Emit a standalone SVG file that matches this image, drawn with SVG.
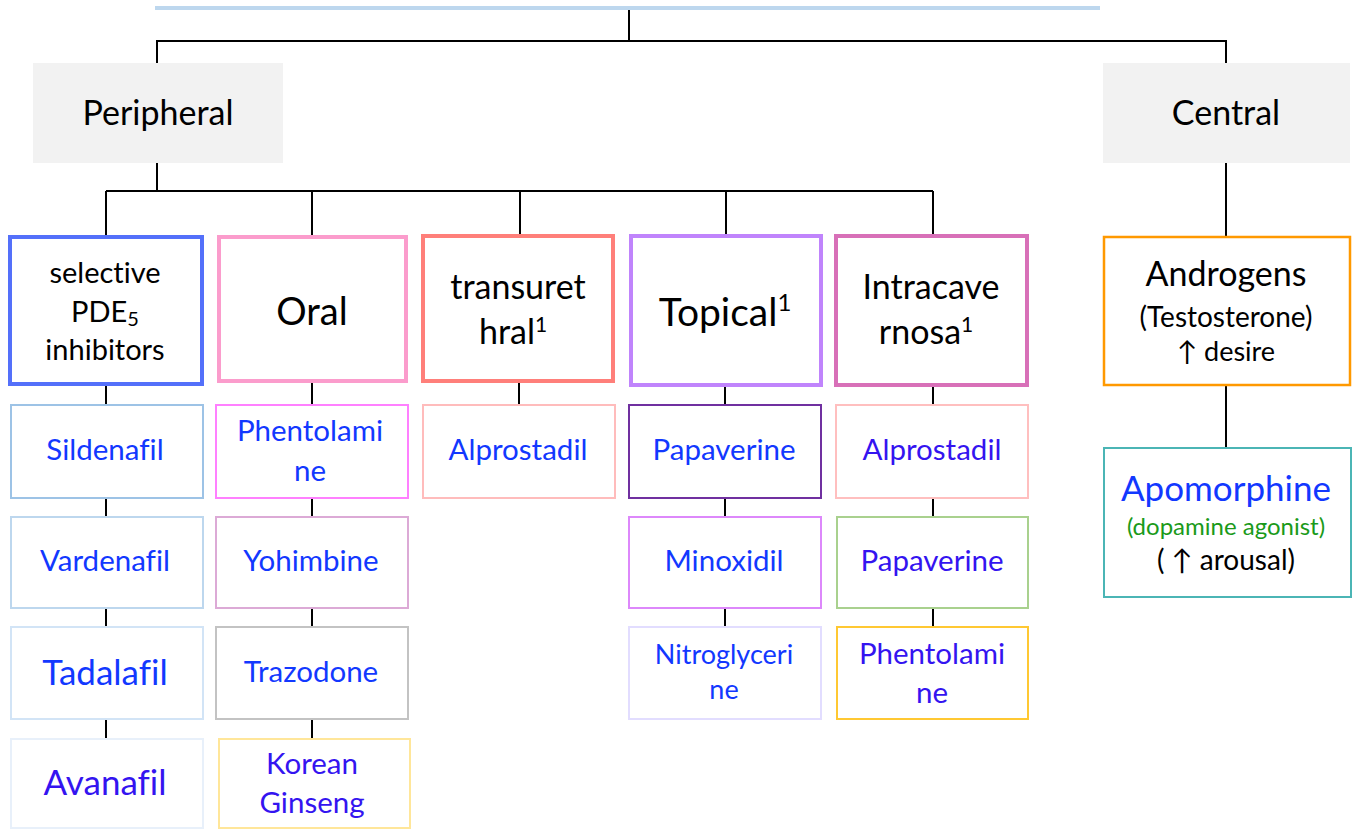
<svg xmlns="http://www.w3.org/2000/svg" width="1361" height="829" viewBox="0 0 1361 829">
<style>
text{font-family:Lato,"Open Sans","Liberation Sans",sans-serif;text-anchor:middle;font-variant-ligatures:none;}
.k{fill:#000}
.b{fill:#1238ff}
.p{fill:#3414f0}
.g{fill:#1a9a1a}
.hdr{fill:#f2f2f2}
.l2{fill:#fff;stroke-width:4}
.l3{fill:#fff;stroke-width:2}
.d{font-size:29.5px}
#connectors line,#connectors polyline{stroke:#000;stroke-width:2;fill:none}
</style>
<rect width="1361" height="829" fill="#fff"/>
<line x1="155" y1="8" x2="1100" y2="8" stroke="#bdd7ee" stroke-width="4"/>
<g id="connectors">
<line x1="629" y1="10" x2="629" y2="41"/>
<polyline points="157,63 157,41 1226,41 1226,63"/>
<line x1="157" y1="163" x2="157" y2="191"/>
<line x1="106" y1="191" x2="933" y2="191"/>
<line x1="106" y1="191" x2="106" y2="235"/>
<line x1="312" y1="191" x2="312" y2="235"/>
<line x1="520" y1="191" x2="520" y2="235"/>
<line x1="726" y1="191" x2="726" y2="235"/>
<line x1="933" y1="191" x2="933" y2="235"/>
<line x1="1226" y1="163" x2="1226" y2="236"/>
<line x1="106" y1="385" x2="106" y2="404"/>
<line x1="106" y1="498" x2="106" y2="516"/>
<line x1="106" y1="608" x2="106" y2="626"/>
<line x1="106" y1="719" x2="106" y2="738"/>
<line x1="312" y1="383" x2="312" y2="404"/>
<line x1="312" y1="498" x2="312" y2="516"/>
<line x1="312" y1="608" x2="312" y2="626"/>
<line x1="312" y1="719" x2="312" y2="738"/>
<line x1="519" y1="383" x2="519" y2="404"/>
<line x1="725" y1="387" x2="725" y2="404"/>
<line x1="725" y1="498" x2="725" y2="516"/>
<line x1="725" y1="608" x2="725" y2="626"/>
<line x1="933" y1="387" x2="933" y2="404"/>
<line x1="933" y1="498" x2="933" y2="516"/>
<line x1="933" y1="608" x2="933" y2="626"/>
<line x1="1226" y1="386" x2="1226" y2="448"/>
</g>
<g id="peripheral"><rect class="hdr" x="33" y="63" width="250" height="100"/><text class="k" x="158" y="125" font-size="34">Peripheral</text></g>
<g id="central"><rect class="hdr" x="1103" y="63" width="247" height="100"/><text class="k" x="1226" y="125" font-size="34">Central</text></g>

<g id="pde5"><rect class="l2" x="10" y="237" width="192" height="147" stroke="#5470fa"/>
<text class="k" font-size="29"><tspan x="105" y="283">selective</tspan><tspan x="105" y="322">PDE<tspan font-size="20" dy="4">5</tspan></tspan><tspan x="105" y="360">inhibitors</tspan></text></g>
<g id="oral"><rect class="l2" x="219" y="237" width="187" height="144" stroke="#fb9ccc"/><text class="k" x="312" y="325" font-size="38">Oral</text></g>
<g id="transurethral"><rect class="l2" x="423" y="236" width="190" height="145" stroke="#ff7f7a"/>
<text class="k" font-size="34"><tspan x="518" y="299">transuret</tspan><tspan x="513" y="344">hral<tspan font-size="21" dy="-12">1</tspan></tspan></text></g>
<g id="topical"><rect class="l2" x="631" y="236" width="190" height="149" stroke="#c084fc"/><text class="k" x="725" y="326" font-size="39">Topical<tspan font-size="24" dy="-15">1</tspan></text></g>
<g id="intracavernosa"><rect class="l2" x="836" y="236" width="191" height="149" stroke="#d870b8"/>
<text class="k" font-size="34"><tspan x="931" y="299">Intracave</tspan><tspan x="926" y="344">rnosa<tspan font-size="21" dy="-12">1</tspan></tspan></text></g>
<g id="androgens"><rect x="1104" y="237" width="246" height="148" fill="#fff" stroke="#ff9900" stroke-width="2.5"/>
<text class="k"><tspan x="1226" y="286" font-size="34">Androgens</tspan><tspan x="1226" y="327" font-size="28">(Testosterone)</tspan><tspan x="1226" y="361" font-size="27">↑ desire</tspan></text></g>

<g id="sildenafil"><rect class="l3" x="11" y="405" width="192" height="93" stroke="#9dc3e6"/><text class="b d" x="105" y="460">Sildenafil</text></g>
<g id="vardenafil"><rect class="l3" x="11" y="517" width="192" height="91" stroke="#bdd7ee"/><text class="b d" x="105" y="571">Vardenafil</text></g>
<g id="tadalafil"><rect class="l3" x="11" y="627" width="192" height="92" stroke="#d2e4f6"/><text class="b" x="105" y="685" font-size="35">Tadalafil</text></g>
<g id="avanafil"><rect class="l3" x="11" y="739" width="192" height="89" stroke="#e8f0fa"/><text class="p" x="105" y="795" font-size="35">Avanafil</text></g>

<g id="phentolamine-oral"><rect class="l3" x="216" y="405" width="192" height="93" stroke="#ff80ff"/>
<text class="b d"><tspan x="310" y="441">Phentolami</tspan><tspan x="310" y="481">ne</tspan></text></g>
<g id="yohimbine"><rect class="l3" x="216" y="517" width="192" height="91" stroke="#dcaad6"/><text class="b d" x="311" y="571">Yohimbine</text></g>
<g id="trazodone"><rect class="l3" x="216" y="627" width="192" height="92" stroke="#c3c3c3"/><text class="b d" x="311" y="682">Trazodone</text></g>
<g id="ginseng"><rect class="l3" x="219" y="739" width="191" height="89" stroke="#ffe699"/>
<text class="p d"><tspan x="312" y="774">Korean</tspan><tspan x="312" y="813">Ginseng</tspan></text></g>

<g id="alprostadil-tu"><rect class="l3" x="423" y="405" width="192" height="93" stroke="#ffbcbc"/><text class="b d" x="518" y="460">Alprostadil</text></g>

<g id="papaverine-top"><rect class="l3" x="629" y="405" width="192" height="93" stroke="#7030a0"/><text class="b d" x="724" y="460">Papaverine</text></g>
<g id="minoxidil"><rect class="l3" x="629" y="517" width="192" height="91" stroke="#dd88fb"/><text class="b d" x="724" y="571">Minoxidil</text></g>
<g id="nitroglycerine"><rect class="l3" x="629" y="627" width="192" height="92" stroke="#e2ddff"/>
<text class="b" font-size="27"><tspan x="724" y="664">Nitroglyceri</tspan><tspan x="724" y="699">ne</tspan></text></g>

<g id="alprostadil-ic"><rect class="l3" x="836" y="405" width="192" height="93" stroke="#ffbfbf"/><text class="p d" x="932" y="460">Alprostadil</text></g>
<g id="papaverine-ic"><rect class="l3" x="837" y="517" width="191" height="91" stroke="#a9d18e"/><text class="p d" x="932" y="571">Papaverine</text></g>
<g id="phentolamine-ic"><rect class="l3" x="837" y="627" width="191" height="92" stroke="#ffc832"/>
<text class="p d"><tspan x="932" y="664">Phentolami</tspan><tspan x="932" y="703">ne</tspan></text></g>

<g id="apomorphine"><rect class="l3" x="1104" y="448" width="247" height="149" stroke="#4bb5b5"/>
<text><tspan class="b" x="1226" y="501" font-size="35">Apomorphine</tspan><tspan class="g" x="1226" y="535" font-size="24">(dopamine agonist)</tspan><tspan class="k" x="1226" y="570" font-size="28">( ↑ arousal)</tspan></text></g>
</svg>
